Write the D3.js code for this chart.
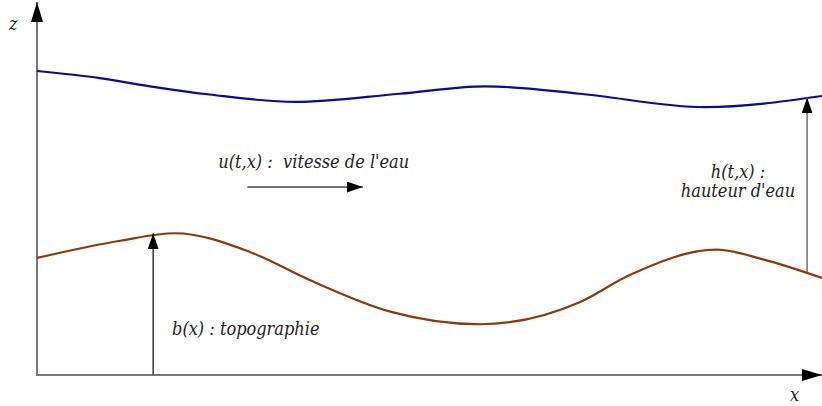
<!DOCTYPE html>
<html>
<head>
<meta charset="utf-8">
<script src="https://cdn.jsdelivr.net/npm/d3@7"></script>
<style>
  body { margin: 0; background: white; }
  text { font-family: "DejaVu Serif", serif; font-stretch: condensed; font-style: italic; fill: #222; white-space: pre; }
</style>
</head>
<body>
<div id="chart"></div>
<script>
// surface of the water h+b, sampled along x
const surfX = [0, 0.8, 1.44, 2.2, 3.29, 4.62, 5.71, 6.92, 8.51, 10];
const surfZ = [4.075, 3.98, 3.87, 3.76, 3.66, 3.77, 3.87, 3.77, 3.59, 3.74];
// topography b(x)
const topoX = [0, 1.06, 1.76, 2.71, 3.48, 4.5, 5.64, 6.92, 7.55, 8.66, 9.25, 10];
const topoZ = [1.57, 1.80, 1.90, 1.65, 1.27, 0.85, 0.68, 0.98, 1.34, 1.68, 1.55, 1.30];
// arrows : [x1, z1, x2, z2]
const arrowB = [1.48, 0, 1.48, 1.90];
const arrowH = [9.81, 1.38, 9.81, 3.72];
const arrowU = [2.68, 2.52, 4.15, 2.52];
const labels = [
  {text: "u(t,x) :  vitesse de l'eau", x: 2.31, z: 2.78, anchor: "start"},
  {text: "h(t,x) :", x: 8.93, z: 2.64, anchor: "middle"},
  {text: "hauteur d'eau", x: 8.93, z: 2.38, anchor: "middle"},
  {text: "b(x) : topographie", x: 1.72, z: 0.54, anchor: "start"}
];

let width = 822, height = 406;
let x = d3.scaleLinear().domain([0, 10]).range([37, 822]);
let z = d3.scaleLinear().domain([0, 5]).range([375, 2]);

let svg = d3.select("#chart").append("svg")
    .attr("width", width)
    .attr("height", height)
    .style("background", "white");

let defs = svg.append("defs");
function marker(id, len, half) {
    defs.append("marker")
        .attr("id", id)
        .attr("viewBox", `0 ${-half} ${len} ${2 * half}`)
        .attr("refX", len)
        .attr("refY", 0)
        .attr("orient", "auto")
        .attr("markerUnits", "userSpaceOnUse")
        .attr("markerWidth", len)
        .attr("markerHeight", 2 * half)
        .append("path")
        .attr("d", `M0,${-half} L${len},0 L0,${half} Z`)
        .attr("fill", "#000");
}
marker("axishead", 20, 6);
marker("arrowhead", 16, 5.5);

// axes
svg.append("line")
    .attr("x1", x(0)).attr("y1", z(0))
    .attr("x2", x(0)).attr("y2", z(5))
    .attr("stroke", "#777").attr("stroke-width", 2)
    .attr("marker-end", "url(#axishead)");
svg.append("line")
    .attr("x1", x(0) - 1).attr("y1", z(0))
    .attr("x2", x(10)).attr("y2", z(0))
    .attr("stroke", "#777").attr("stroke-width", 2)
    .attr("marker-end", "url(#axishead)");

svg.append("text").attr("x", 9).attr("y", 30).style("font-size", "18px").text("z");
svg.append("text").attr("x", 790).attr("y", 401).style("font-size", "18px").text("x");

let line = d3.line()
    .x(d => x(d[0]))
    .y(d => z(d[1]))
    .curve(d3.curveMonotoneX);

svg.append("path")
    .datum(d3.zip(surfX, surfZ))
    .attr("d", line)
    .attr("fill", "none")
    .attr("stroke", "#0a0a96")
    .attr("stroke-width", 2.2);

svg.append("path")
    .datum(d3.zip(topoX, topoZ))
    .attr("d", line)
    .attr("fill", "none")
    .attr("stroke", "#8b3a0c")
    .attr("stroke-width", 2.2);

[[arrowB, "#444"], [arrowH, "#777"], [arrowU, "#444"]].forEach(([a, c]) => {
    svg.append("line")
        .attr("x1", x(a[0])).attr("y1", z(a[1]))
        .attr("x2", x(a[2])).attr("y2", z(a[3]))
        .attr("stroke", c).attr("stroke-width", 1.6)
        .attr("marker-end", "url(#arrowhead)");
});

svg.selectAll(".lbl")
    .data(labels)
    .enter()
    .append("text")
    .attr("class", "lbl")
    .attr("x", d => x(d.x))
    .attr("y", d => z(d.z))
    .attr("text-anchor", d => d.anchor)
    .style("font-size", "18px")
    .text(d => d.text);
</script>
</body>
</html>
